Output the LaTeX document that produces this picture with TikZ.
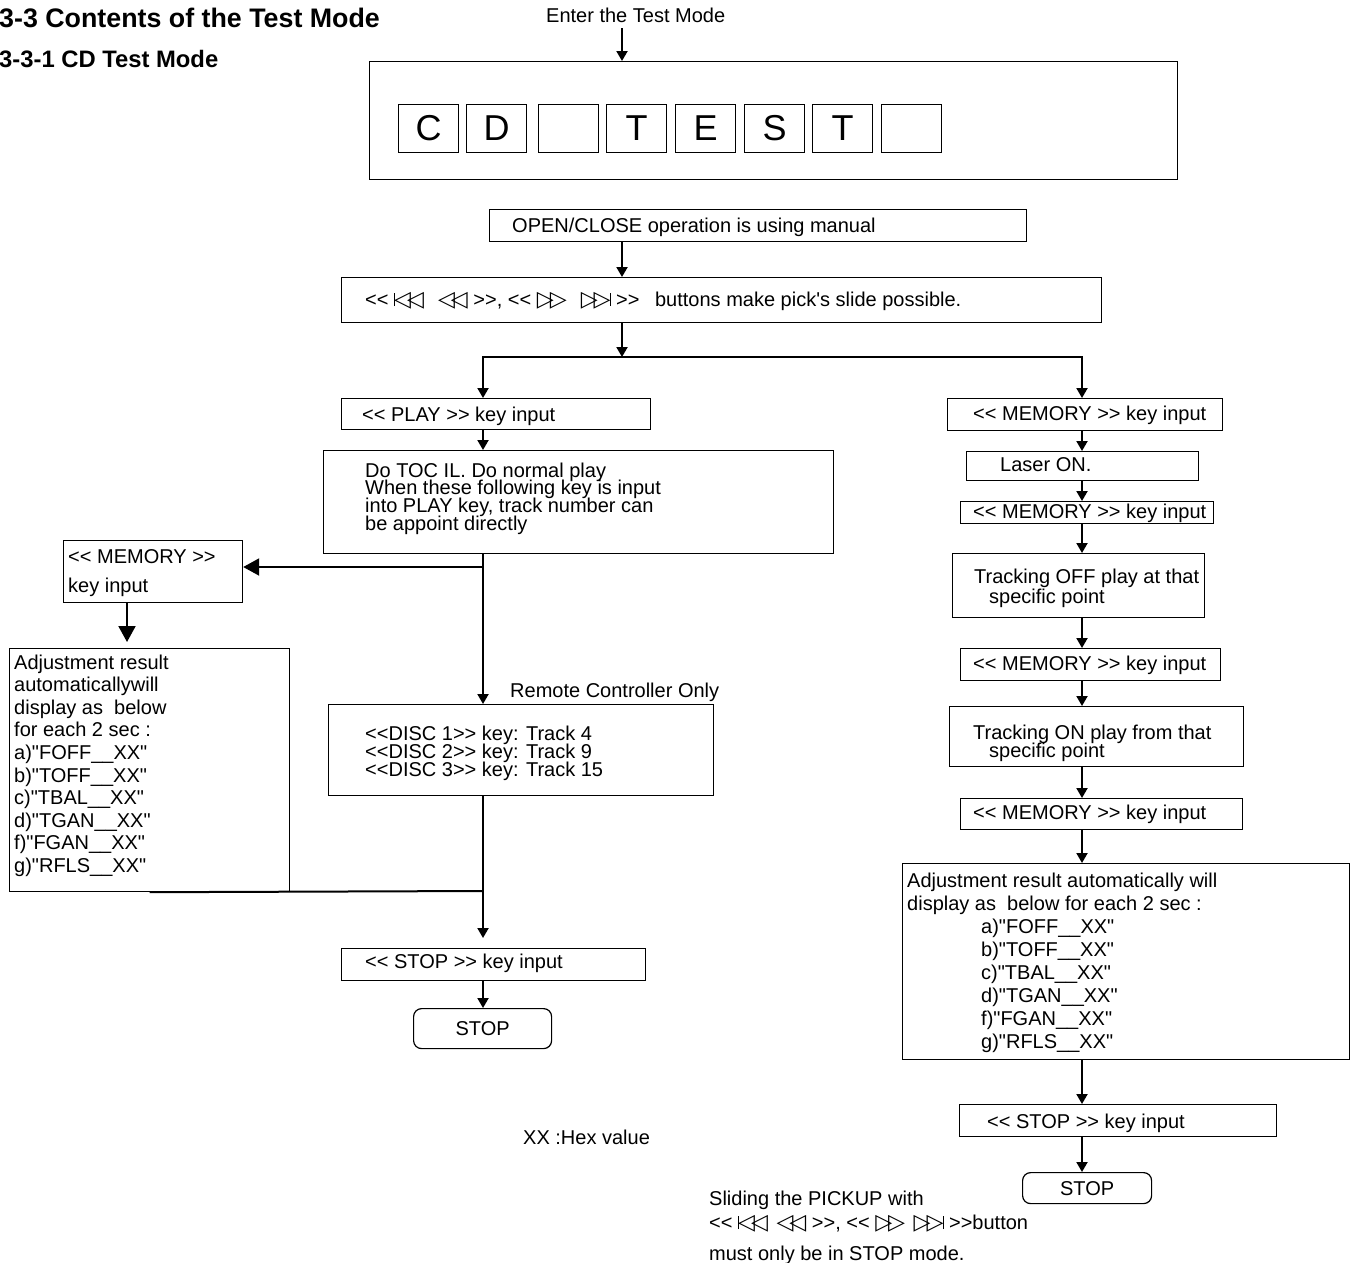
\documentclass[tikz,border=0pt]{standalone}
\usepackage{fontspec}
\setmainfont{Liberation Sans}[Ligatures=TeXOff]
\newfontfamily\symf{DejaVu Sans}
\usetikzlibrary{arrows.meta}
\newcommand\mlines[2]{\vtop{\baselineskip=#1pt\lineskiplimit=-\maxdimen\lineskip=0pt\relax #2}}
\newcommand\ltri{{\symf\fontsize{22}{22}\selectfont ◁}}
\newcommand\rtri{{\symf\fontsize{22}{22}\selectfont ▷}}
\newcommand\barsym{\rule{1pt}{13pt}}
\newcommand\prevs{\barsym\kern-1pt\ltri\kern-4pt\ltri}
\newcommand\rews{\ltri\kern-4pt\ltri}
\newcommand\ffs{\rtri\kern-4pt\rtri}
\newcommand\nexts{\rtri\kern-4pt\rtri\kern-1pt\barsym}
\begin{document}
\begin{tikzpicture}[x=1pt,y=-1pt,font=\fontsize{20}{24}\selectfont,
  box/.style={draw, line width=1.2pt, inner sep=0pt, anchor=north west},
  rbox/.style={box, rounded corners=8pt},
  sq/.style={box, minimum width=60pt, minimum height=48pt, font=\fontsize{36}{40}\selectfont},
  txt/.style={anchor=base west, inner sep=0pt},
  arr/.style={line width=2pt, -{Triangle[length=10pt,width=11pt]}},
  bigarr/.style={line width=2pt, -{Triangle[length=16pt,width=17pt]}},
  conn/.style={line width=2pt}]
\useasboundingbox (0,0) rectangle (1358,1262);
\fill[white] (0,0) rectangle (1358,1262);

% titles
\node[txt] (tTitle) at (-1,27) {\fontsize{26.8}{30}\selectfont\bfseries 3-3 Contents of the Test Mode};
\node[txt] (tSub) at (-1,67) {\fontsize{23.8}{28}\selectfont\bfseries 3-3-1 CD Test Mode};

% guide coordinates
\coordinate (xA) at (622,0);
\coordinate (xB) at (483,0);
\coordinate (xC) at (1082,0);
\coordinate (xD) at (127,0);
\coordinate (j1) at (622,357);
\coordinate (j2) at (483,567);
\coordinate (j3) at (483,891);

% top
\node[txt] (tEnter) at (546,22) {Enter the Test Mode};
\node[box, minimum width=808pt, minimum height=118pt] (big) at (369,61) {};
\node[sq] (sq1) at (398,104) {C};
\node[sq] (sq2) at (466,104) {D};
\node[sq] (sq3) at (538,104) {};
\node[sq] (sq4) at (606,104) {T};
\node[sq] (sq5) at (675,104) {E};
\node[sq] (sq6) at (744,104) {S};
\node[sq] (sq7) at (812,104) {T};
\node[sq] (sq8) at (881,104) {};

\node[box, minimum width=537pt, minimum height=32pt] (open) at (489,209) {};
\node[txt] (tOpen) at (512,232) {OPEN/CLOSE operation is using manual};
\node[box, minimum width=760pt, minimum height=45pt] (btn) at (341,277) {};
\node[txt] (tBtn) at (365,306) {<< \prevs\ \ \hspace{3pt}\rews\ >>, << \ffs\ \ \hspace{3pt}\nexts\ >>\hspace{10pt} buttons make pick's slide possible.};

% left branch
\node[box, minimum width=309pt, minimum height=31pt] (play) at (341,398) {};
\node[txt] (tPlay) at (362,421) {<< PLAY >> key input};
\node[box, minimum width=510pt, minimum height=103pt] (toc) at (323,450) {};
\node[txt] (tToc) at (365,477) {\mlines{17.7}{\hbox{Do TOC IL. Do normal play}\hbox{When these following key is input}\hbox{into PLAY key, track number can}\hbox{be appoint directly}}};

\node[box, minimum width=179pt, minimum height=62pt] (memL) at (63,540) {};
\node[txt] (tMemL) at (68,563) {\mlines{29}{\hbox{<< MEMORY >>}\hbox{key input}}};
\node[box, minimum width=280pt, minimum height=243pt] (adjL) at (9,648) {};
\node[txt] (tAdjL) at (14,669) {\mlines{22.6}{\hbox{Adjustment result}\hbox{automaticallywill}\hbox{display as\ \ below}\hbox{for each 2 sec :}\hbox{a)"FOFF\_\_XX"}\hbox{b)"TOFF\_\_XX"}\hbox{c)"TBAL\_\_XX"}\hbox{d)"TGAN\_\_XX"}\hbox{f)"FGAN\_\_XX"}\hbox{g)"RFLS\_\_XX"}}};

\node[txt] (tRemote) at (510,697) {Remote Controller Only};
\node[box, minimum width=385pt, minimum height=91pt] (disc) at (328,704) {};
\node[txt] (tDisc) at (365,740) {\mlines{18}{\hbox{<<DISC 1>> key: Track 4}\hbox{<<DISC 2>> key: Track 9}\hbox{<<DISC 3>> key: Track 15}}};

\node[box, minimum width=304pt, minimum height=32pt] (stopkL) at (341,948) {};
\node[txt] (tStopkL) at (365,968) {<< STOP >> key input};
\node[rbox, minimum width=138pt, minimum height=40pt] (stopL) at (413,1008) {STOP};

\node[txt] (tHex) at (523,1144) {XX :Hex value};

% right branch
\node[box, minimum width=275pt, minimum height=32pt] (mem1) at (947,398) {};
\node[txt] (tMem1) at (973,420) {<< MEMORY >> key input};
\node[box, minimum width=232pt, minimum height=29pt] (laser) at (966,451) {};
\node[txt] (tLaser) at (1000,471) {Laser ON.};
\node[box, minimum width=253pt, minimum height=22pt] (mem2) at (960,501) {};
\node[txt] (tMem2) at (973,518) {<< MEMORY >> key input};
\node[box, minimum width=252pt, minimum height=64pt] (trkoff) at (952,553) {};
\node[txt] (tTrkoff) at (974,583) {\mlines{20}{\hbox{Tracking OFF play at that}\hbox{\kern15pt specific point}}};
\node[box, minimum width=260pt, minimum height=32pt] (mem3) at (960,648) {};
\node[txt] (tMem3) at (973,670) {<< MEMORY >> key input};
\node[box, minimum width=294pt, minimum height=60pt] (trkon) at (949,706) {};
\node[txt] (tTrkon) at (973,739) {\mlines{18.5}{\hbox{Tracking ON play from that}\hbox{\kern16pt specific point}}};
\node[box, minimum width=282pt, minimum height=31pt] (mem4) at (960,798) {};
\node[txt] (tMem4) at (973,819) {<< MEMORY >> key input};
\node[box, minimum width=447pt, minimum height=196pt] (adjR) at (902,863) {};
\node[txt] (tAdjR) at (907,887) {\mlines{23}{\hbox{Adjustment result automatically will}\hbox{display as\ \ below for each 2 sec :}\hbox{\kern74pt a)"FOFF\_\_XX"}\hbox{\kern74pt b)"TOFF\_\_XX"}\hbox{\kern74pt c)"TBAL\_\_XX"}\hbox{\kern74pt d)"TGAN\_\_XX"}\hbox{\kern74pt f)"FGAN\_\_XX"}\hbox{\kern74pt g)"RFLS\_\_XX"}}};
\node[box, minimum width=317pt, minimum height=32pt] (stopkR) at (959,1104) {};
\node[txt] (tStopkR) at (987,1128) {<< STOP >> key input};
\node[rbox, minimum width=129pt, minimum height=31pt] (stopR) at (1022,1172) {STOP};

\node[txt] (tSlide) at (709,1205) {\mlines{24}{\hbox{Sliding the PICKUP with}\hbox{<< \prevs\ \hspace{3pt}\rews\ >>, << \ffs\ \hspace{3pt}\nexts\ >>button}\vskip7pt\hbox{must only be in STOP mode.}}};

% connectors
\draw[arr, shorten <=6pt] (tEnter.south -| xA) -- (xA |- big.north);
\draw[arr] (xA |- open.south) -- (xA |- btn.north);
\draw[arr] (xA |- btn.south) -- (j1);
\draw[arr] (j1) -| (xB |- play.north);
\draw[arr] (j1) -| (xC |- mem1.north);
\draw[arr] (xB |- play.south) -- (xB |- toc.north);
\draw[arr] (xB |- toc.south) -- (xB |- disc.north);
\draw[bigarr] (j2) -- (j2 -| memL.east);
\draw[bigarr, shorten >=6pt] (xD |- memL.south) -- (xD |- adjL.north);
\draw[arr, shorten >=10pt] (xB |- disc.south) -- (xB |- stopkL.north);
\draw[conn] (adjL.south) -- (j3);
\draw[arr] (xB |- stopkL.south) -- (xB |- stopL.north);

\draw[arr] (xC |- mem1.south) -- (xC |- laser.north);
\draw[arr] (xC |- laser.south) -- (xC |- mem2.north);
\draw[arr] (xC |- mem2.south) -- (xC |- trkoff.north);
\draw[arr] (xC |- trkoff.south) -- (xC |- mem3.north);
\draw[arr] (xC |- mem3.south) -- (xC |- trkon.north);
\draw[arr] (xC |- trkon.south) -- (xC |- mem4.north);
\draw[arr] (xC |- mem4.south) -- (xC |- adjR.north);
\draw[arr] (xC |- adjR.south) -- (xC |- stopkR.north);
\draw[arr] (xC |- stopkR.south) -- (xC |- stopR.north);
\end{tikzpicture}
\end{document}
